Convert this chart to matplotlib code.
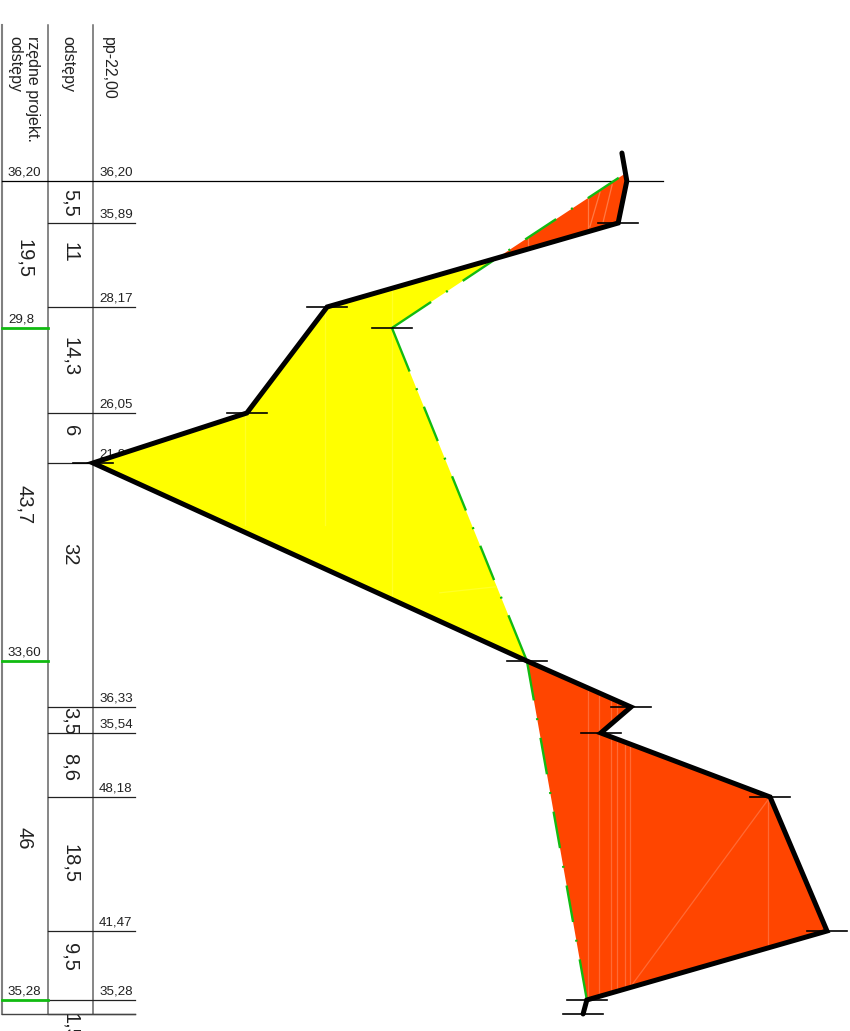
import matplotlib
matplotlib.use('Agg')
from matplotlib import pyplot as plt

plt.rcParams['font.family'] = ['Liberation Sans', 'DejaVu Sans']

# profile: chainage [m] down the sheet, elevation [m] across
terrain_chain = [-3.66, 0, 5.5, 10.08, 16.49, 30.37, 36.91, 62.83, 68.85, 72.25, 80.63, 98.17, 107.2, 109.03]
terrain_elev = [36.03, 36.16, 35.93, 32.72, 28.21, 26.08, 22.0, 33.51, 36.27, 35.47, 39.96, 41.47, 35.10, 35.0]
# design line, three runs drawn out from the corners
design1_chain = [19.24, 10.08, -1.05]
design1_elev = [29.93, 32.72, 36.14]
design2_chain = [19.24, 62.83]
design2_elev = [29.93, 33.51]
design3_chain = [62.83, 107.2]
design3_elev = [33.51, 35.10]

# cut and fill areas
cut1_chain = [-1.05, 0, 5.5, 10.08]
cut1_elev = [36.14, 36.16, 35.93, 32.72]
fill_chain = [10.08, 16.49, 30.37, 36.91, 62.83, 19.24]
fill_elev = [32.72, 28.21, 26.08, 22.0, 33.51, 29.93]
cut2_chain = [62.83, 68.85, 72.25, 80.63, 98.17, 107.2]
cut2_elev = [33.51, 36.27, 35.47, 39.96, 41.47, 35.10]

# short cross marks on the profile
tick_chain = [5.5, 16.49, 19.24, 30.37, 36.91, 62.83, 68.85, 72.25, 80.63, 98.17, 107.2, 109.03]
tick_elev = [35.93, 28.21, 29.93, 26.08, 22.0, 33.51, 36.27, 35.47, 39.96, 41.47, 35.10, 35.0]

# faint seams inside the filled areas
seam_cut1 = [((35.13, -2), (35.13, 9)), ((33.54, 4), (33.54, 12)), ((35.45, 1.44), (35.18, 6.0)), ((35.77, 0.5), (35.53, 5.4))]
seam_cut2 = [((39.9, 75), (39.9, 104)), ((39.96, 80.63), (36.3, 105.2)), ((35.13, 64), (35.13, 110)),
             ((35.43, 64), (35.43, 110)), ((35.75, 64), (35.75, 110)), ((35.91, 64), (35.91, 110)),
             ((36.12, 64), (36.12, 110)), ((36.25, 64), (36.25, 110))]
seam_fill = [((28.15, 10), (28.15, 45)), ((26.03, 25), (26.03, 45)), ((29.93, 10), (29.93, 60)), ((32.72, 53.1), (31.2, 53.9))]

# table
col1_lines = [19.24, 62.83, 107.2]
col1_values = ['29,8', '33,60', '35,28']
col1_top = '36,20'
col1_text = ['19,5', '43,7', '46']
col1_text_chain = [10.2, 42.4, 86.0]
seg_lines = [5.5, 16.49, 30.37, 36.91, 68.85, 72.25, 80.63, 98.17, 107.2, 109.03]
seg_text = ['5,5', '11', '14,3', '6', '32', '3,5', '8,6', '18,5', '9,5', '1,5']
seg_text_chain = [2.8, 9.3, 23.0, 32.7, 48.9, 70.7, 76.7, 89.4, 101.6, 110.7]
elev_values = ['35,89', '28,17', '26,05', '21,8', '36,33', '35,54', '48,18', '41,47', '35,28']
elev_lines = [5.5, 16.49, 30.37, 36.91, 68.85, 72.25, 80.63, 98.17, 107.2]

W, H = 850, 1031
fig = plt.figure(figsize=(W / 100, H / 100), dpi=100)
ax = fig.add_axes([0, 0, 1, 1])
ax.set_xlim(19.533, 42.08)
ax.set_ylim(111.26, -23.69)
ax.axis('off')
tr = ax.get_yaxis_transform()


def px(x):
    return x / W


def dashes(first, last, lw):
    # dash, gap, dot, gap given in pixels, turned into line widths
    seq = [first, 18, 2, 18, 37, 18, 2, 18, 37, 18, 2, 18, 37, 18, 2, 18, last, 900]
    return (0, tuple(s * 0.72 / lw for s in seq))


grey = '#666666'
ax.plot([px(2), px(2)], [-20.4, 109.03], transform=tr, color='#808080', lw=1.5, zorder=1)
ax.plot([px(47.5), px(47.5)], [-20.4, 109.03], transform=tr, color=grey, lw=1.1, zorder=1)
ax.plot([px(92.7), px(92.7)], [-20.4, 109.03], transform=tr, color=grey, lw=1.1, zorder=1)

ax.plot([px(2), px(663)], [0, 0], transform=tr, color='black', lw=0.9, zorder=1)
for c in seg_lines:
    ax.plot([px(47.5), px(135)], [c, c], transform=tr, color='#222222', lw=0.9, zorder=1)
ax.plot([px(2), px(135)], [109.03, 109.03], transform=tr, color='#444444', lw=1.0, zorder=1)
for c in col1_lines:
    ax.plot([px(2), px(47.5)], [c, c], transform=tr, color='#11BB11', lw=2, zorder=2)

# headers
ax.text(px(24), -19.0, 'rzędne projekt.\nodstępy', transform=tr, rotation=270, fontsize=11.5,
        ha='center', va='top', ma='left', linespacing=1.2, color='#222222')
ax.text(px(68), -19.0, 'odstępy', transform=tr, rotation=270, fontsize=11.5, ha='center', va='top', color='#222222')
ax.text(px(108), -18.8, 'pp-22,00', transform=tr, rotation=270, fontsize=11.5, ha='center', va='top', color='#222222')

small = dict(transform=tr, fontsize=9.6, ha='left', va='bottom', color='#222222', zorder=1)
ax.text(px(8), -0.35, col1_top, **small)
ax.text(px(99), -0.35, col1_top, **small)
for c, s in zip(col1_lines, col1_values):
    ax.text(px(8), c - 0.35, s, **small)
for c, s in zip(elev_lines, elev_values):
    ax.text(px(99), c - 0.35, s, **small)

for c, s in zip(col1_text_chain, col1_text):
    ax.text(px(24), c, s, transform=tr, rotation=270, fontsize=14.5, ha='center', va='center', color='#222222')
for c, s in zip(seg_text_chain, seg_text):
    ax.text(px(70), c, s, transform=tr, rotation=270, fontsize=14.5, ha='center', va='center',
            color='#222222', clip_on=False)

# areas
cut1 = ax.fill(cut1_elev, cut1_chain, color='#FF4500', lw=0, zorder=3)[0]
fill = ax.fill(fill_elev, fill_chain, color='#FFFF00', lw=0, zorder=3)[0]
cut2 = ax.fill(cut2_elev, cut2_chain, color='#FF4500', lw=0, zorder=3)[0]
for seams, patch, col in [(seam_cut1, cut1, '#FF7A45'), (seam_cut2, cut2, '#FF6A35'), (seam_fill, fill, '#FFFF28')]:
    for a, b in seams:
        line, = ax.plot([a[0], b[0]], [a[1], b[1]], color=col, lw=0.9, zorder=3.1)
        line.set_clip_path(patch)

# design line
green = '#11BB11'
ax.plot(design1_elev, design1_chain, color=green, lw=1.7, zorder=4, linestyle=dashes(47, 50, 1.7))
ax.plot(design2_elev, design2_chain, color=green, lw=1.7, zorder=4, linestyle=dashes(47, 55, 1.7))
ax.plot(design3_elev, design3_chain, color=green, lw=1.7, zorder=4, linestyle=dashes(40, 40, 1.7))

# cross marks
half = 20 / 37.7
for c, e in zip(tick_chain, tick_elev):
    ax.plot([e - half, e + half], [c, c], color='black', lw=1.2, zorder=5)

ax.plot(terrain_elev, terrain_chain, color='black', lw=3.6, zorder=6,
        solid_joinstyle='miter', solid_capstyle='round')

fig.savefig('out.png', dpi=100)
